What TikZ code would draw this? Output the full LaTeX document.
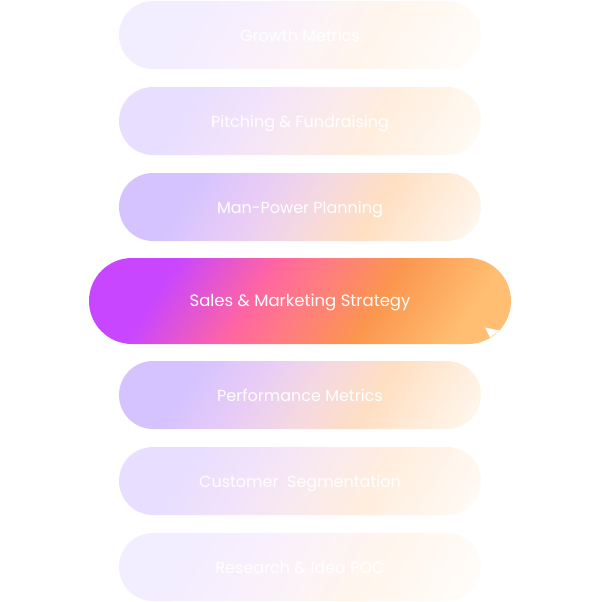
\documentclass[tikz,border=0pt]{standalone}
\usepackage{fontspec}
\setmainfont{Poppins}
\usetikzlibrary{calc}

\definecolor{lav}{HTML}{D5C3FF}
\definecolor{lilac}{HTML}{E9CCF6}
\definecolor{blush}{HTML}{F4D8E2}
\definecolor{peach}{HTML}{FFDFC2}
\definecolor{cream}{HTML}{FFF6EC}
\definecolor{salesviolet}{HTML}{C846FF}
\definecolor{salespink}{HTML}{FF65A2}
\definecolor{salescoral}{HTML}{FF7A85}
\definecolor{salesorange}{HTML}{FB964E}
\definecolor{salesamber}{HTML}{FFBE72}

\pgfdeclarehorizontalshading{softband}{100bp}{color(0bp)=(lav); color(25bp)=(lav);
  color(36bp)=(lav); color(44bp)=(lilac); color(51bp)=(blush); color(59bp)=(peach);
  color(72bp)=(cream); color(75bp)=(cream); color(100bp)=(cream)}
\pgfdeclarehorizontalshading{hotband}{100bp}{color(0bp)=(salesviolet); color(25bp)=(salesviolet);
  color(35bp)=(salesviolet); color(45bp)=(salespink); color(50bp)=(salescoral);
  color(58bp)=(salesorange); color(68bp)=(salesamber);
  color(75bp)=(salesamber); color(100bp)=(salesamber)}

\tikzset{
  pill/.style={minimum width=362pt, minimum height=68pt, rounded corners=34pt, inner sep=0pt,
    text=white, font=\fontsize{16}{19}\selectfont, text height=13.6pt, text depth=0pt,
    path picture={\shade[shading=softband, shading angle=-32, fill opacity=#1]
      ($(path picture bounding box.center)+(-181,-181)$) rectangle +(362,362);}},
  salespill/.style={minimum width=422pt, minimum height=86pt, rounded corners=43pt, inner sep=0pt,
    text=white, font=\fontsize{16.5}{19}\selectfont, text height=11.5pt, text depth=0pt,
    path picture={\shade[shading=hotband, shading angle=-32]
      ($(path picture bounding box.center)+(-211,-211)$) rectangle +(422,422);}}
}

\begin{document}
\begin{tikzpicture}[x=1pt, y=-1pt]
\useasboundingbox (0,0) rectangle (600,602);
\node[pill=0.3] (growth) at (300,35) {Growth Metrics};
\node[pill=0.55] (pitching) at (300,121) {Pitching \& Fundraising};
\node[pill=1] (manpower) at (300,207) {Man-Power Planning};
\node[salespill] (sales) at (300,301) {Sales \& Marketing Strategy};
\node[pill=1] (performance) at (300,395) {Performance Metrics};
\node[pill=0.55] (customer) at (300,481) {Customer~ Segmentation};
\node[pill=0.3] (research) at (300,567) {Research \& Idea POC};
% notch in the sales pill
\fill[white] (485,327.5) -- (499.5,330.5) -- (490,337.5) -- cycle;

\end{tikzpicture}
\end{document}
